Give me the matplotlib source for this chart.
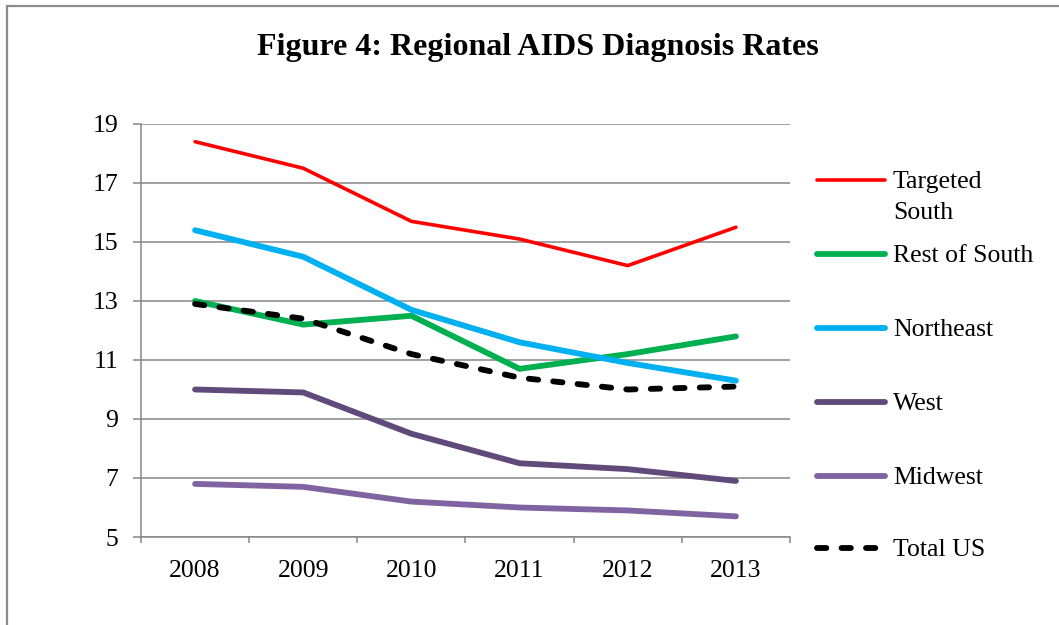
import matplotlib.pyplot as plt
from matplotlib.lines import Line2D
from matplotlib.patches import Rectangle

years = ['2008', '2009', '2010', '2011', '2012', '2013']
labels = ['Targeted\nSouth', 'Rest of South', 'Northeast', 'West', 'Midwest', 'Total US']
targeted_south = [18.4, 17.5, 15.7, 15.1, 14.2, 15.5]
rest_of_south = [13.0, 12.2, 12.5, 10.7, 11.2, 11.8]
northeast = [15.4, 14.5, 12.7, 11.6, 10.9, 10.3]
west = [10.0, 9.9, 8.5, 7.5, 7.3, 6.9]
midwest = [6.8, 6.7, 6.2, 6.0, 5.9, 5.7]
total_us = [12.9, 12.4, 11.2, 10.4, 10.0, 10.1]

series = [targeted_south, rest_of_south, northeast, west, midwest, total_us]
colors = ['#FF0000', '#00B050', '#00B0F0', '#604A7B', '#8064A2', '#000000']
widths = [2.6, 4.2, 4.2, 4.2, 4.2, 4.2]

plt.rcParams['font.family'] = ['Liberation Serif', 'DejaVu Serif']
W, H = 1059, 625
fig = plt.figure(figsize=(W / 100, H / 100), dpi=100)

def fx(px):
    return px / W

def fy(py):
    return 1 - py / H

# chart border (cut off at right and bottom like the original)
fig.add_artist(Rectangle((fx(7), -0.1), 1.2, fy(6) + 0.1, transform=fig.transFigure,
                         fill=False, edgecolor='#8c8c8c', linewidth=1.6))

ax = fig.add_axes([fx(141), fy(537), fx(790 - 141), (537 - 124) / H])
x = list(range(len(years)))
for vals, c, lw in zip(series, colors, widths):
    if c == '#000000':
        ax.plot(x, vals, color=c, lw=lw, dashes=(1.6, 2.6), dash_capstyle='round')
    else:
        ax.plot(x, vals, color=c, lw=lw, solid_capstyle='round', solid_joinstyle='round')

ax.set_xlim(-0.5, len(years) - 0.5)
ax.set_ylim(5, 19)
ax.set_yticks(range(5, 20, 2))
ax.set_xticks(x)
ax.set_xticklabels(years)
ax.set_xticks([i - 0.5 for i in range(len(years) + 1)], minor=True)
ax.tick_params(axis='x', which='major', length=0, pad=16.5, labelsize=18.5)
ax.tick_params(axis='x', which='minor', length=4.5, width=1.1, color='#868686')
ax.tick_params(axis='y', length=6, width=1.1, color='#868686', pad=10.5, labelsize=18.5)
ax.grid(axis='y', color='#868686', lw=1.1)
ax.set_axisbelow(True)
for s in ['top', 'right']:
    ax.spines[s].set_visible(False)
for s in ['left', 'bottom']:
    ax.spines[s].set_color('#868686')
    ax.spines[s].set_linewidth(1.1)

fig.text(fx(538), fy(47), 'Figure 4: Regional AIDS Diagnosis Rates',
         ha='center', va='center', fontsize=23, fontweight='bold')

# legend, drawn by hand to mimic the Excel layout
leg_y = [180, 254, 328, 402, 476, 548]
for lab, c, lw, py in zip(labels, colors, widths, leg_y):
    if c == '#000000':
        ln = Line2D([fx(817), fx(882)], [fy(py), fy(py)], color=c, lw=lw,
                    dashes=(1.6, 2.6), dash_capstyle='round', transform=fig.transFigure)
    else:
        ln = Line2D([fx(817), fx(885)], [fy(py), fy(py)], color=c, lw=lw,
                    solid_capstyle='round', transform=fig.transFigure)
    fig.add_artist(ln)
    for k, part in enumerate(lab.split('\n')):
        fig.text(fx(893), fy(py + 2 + 31 * k), part, ha='left', va='center', fontsize=18.5)

fig.savefig('out.png', dpi=100)
